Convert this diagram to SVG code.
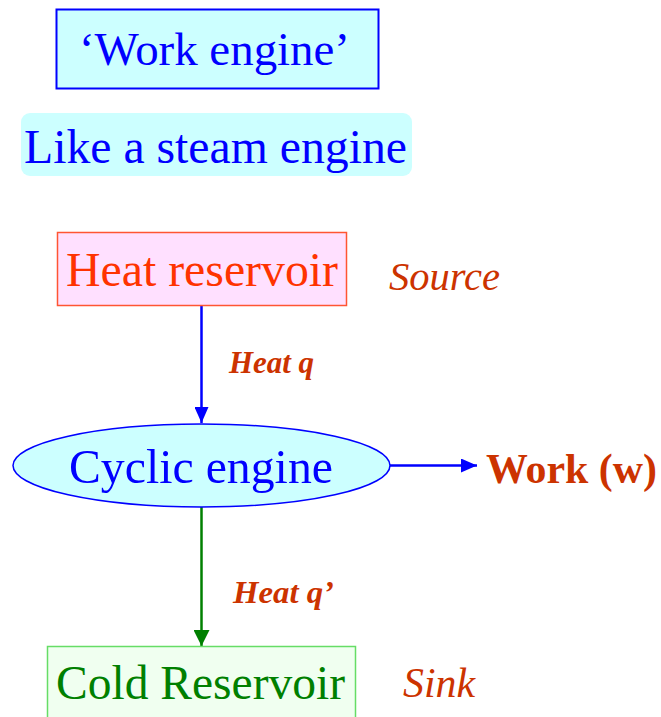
<svg xmlns="http://www.w3.org/2000/svg" width="661" height="717" viewBox="0 0 661 717">
<style>
  text { font-family: "Liberation Serif", "Times New Roman", serif; }
  .main { font-size: 48px; }
  .blue { fill: #0000ff; }
  .lbl { fill: #cc3300; }
  .it { font-style: italic; }
  .bi { font-style: italic; font-weight: bold; font-size: 31px; }
  .conn { fill: none; stroke-width: 2.5; }
</style>
<defs>
  <marker id="ahBlue" viewBox="0 0 16 14" refX="16" refY="7" markerWidth="16" markerHeight="14" markerUnits="userSpaceOnUse" orient="auto">
    <path d="M0,0 L16,7 L0,14 Z" fill="#0000ff"/>
  </marker>
  <marker id="ahGreen" viewBox="0 0 16 16" refX="16" refY="8" markerWidth="16" markerHeight="16" markerUnits="userSpaceOnUse" orient="auto">
    <path d="M0,0 L16,8 L0,16 Z" fill="#008000"/>
  </marker>
</defs>
<rect width="661" height="717" fill="#ffffff"/>

<g id="title">
  <rect x="56.5" y="9.5" width="322" height="79" fill="#ccffff" stroke="#0000ff" stroke-width="2"/>
  <text class="main blue" x="79" y="65" style="font-size:47px" textLength="271" lengthAdjust="spacingAndGlyphs">‘Work engine’</text>
</g>

<g id="subtitle">
  <rect x="21" y="113" width="391" height="63" rx="9" fill="#ccffff"/>
  <text class="main blue" x="24" y="163" textLength="383" lengthAdjust="spacingAndGlyphs">Like a steam engine</text>
</g>

<g id="connectors">
  <line class="conn" x1="201.5" y1="306" x2="201.5" y2="423" stroke="#0000ff" marker-end="url(#ahBlue)"/>
  <line class="conn" x1="390" y1="465.5" x2="477" y2="465.5" stroke="#0000ff" marker-end="url(#ahBlue)"/>
  <line class="conn" x1="201.5" y1="507" x2="201.5" y2="646" stroke="#008000" marker-end="url(#ahGreen)"/>
  <text class="bi lbl" x="229" y="373" textLength="85" lengthAdjust="spacingAndGlyphs">Heat q</text>
  <text class="bi lbl" x="233" y="603" style="font-size:32px" textLength="101" lengthAdjust="spacingAndGlyphs">Heat q’</text>
</g>

<g id="heat-reservoir">
  <rect x="57.5" y="232.5" width="289" height="73" fill="#ffe0ff" stroke="#ff5533" stroke-width="1.5"/>
  <text class="main" x="66" y="286" fill="#ff3300" textLength="272" lengthAdjust="spacingAndGlyphs">Heat reservoir</text>
</g>

<g id="source">
  <text class="it lbl" x="389" y="290" style="font-size:41px" textLength="111" lengthAdjust="spacingAndGlyphs">Source</text>
</g>

<g id="cyclic-engine">
  <ellipse cx="201.5" cy="465.5" rx="188.5" ry="41.5" fill="#ccffff" stroke="#0000ff" stroke-width="1.5"/>
  <text class="main blue" x="69" y="483" style="font-size:49px" textLength="264" lengthAdjust="spacingAndGlyphs">Cyclic engine</text>
</g>

<g id="work">
  <text class="lbl" x="486" y="483" style="font-size:42px;font-weight:bold" textLength="171" lengthAdjust="spacingAndGlyphs">Work (w)</text>
</g>

<g id="cold-reservoir">
  <rect x="47.5" y="646.5" width="308" height="80" fill="#f0fff0" stroke="#66dd66" stroke-width="1.5"/>
  <text class="main" x="56" y="699" fill="#008000" textLength="289" lengthAdjust="spacingAndGlyphs">Cold Reservoir</text>
</g>

<g id="sink">
  <text class="it lbl" x="403" y="697" style="font-size:42px" textLength="72" lengthAdjust="spacingAndGlyphs">Sink</text>
</g>
</svg>
